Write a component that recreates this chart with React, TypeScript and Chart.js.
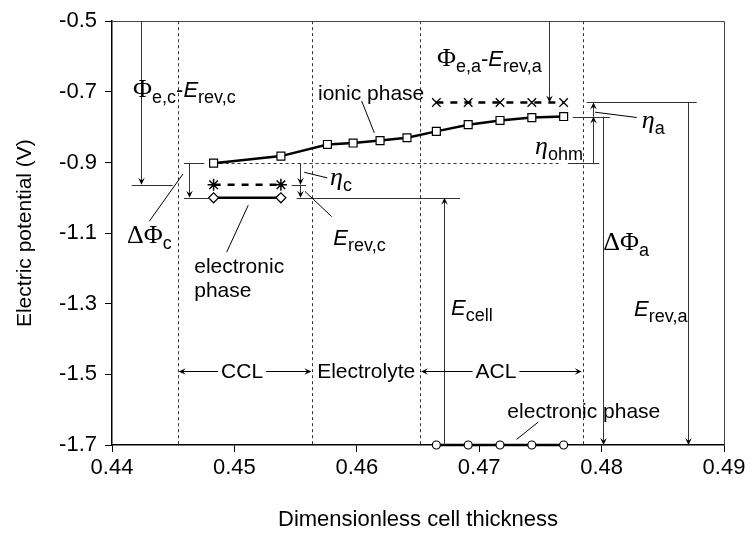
import React, { useEffect, useRef } from 'react';
import { Chart, registerables } from 'chart.js';
Chart.register(...registerables);

// ---- axis ticks ----
const xTicks = [0.44, 0.45, 0.46, 0.47, 0.48, 0.49];
const yTicks = [-1.7, -1.5, -1.3, -1.1, -0.9, -0.7, -0.5];

// ---- series ----
const ionicX = [0.4483, 0.4538, 0.4576, 0.4597, 0.4619, 0.4641, 0.4665, 0.4691, 0.4717, 0.4743, 0.4769];
const ionicY = [-0.902, -0.882, -0.849, -0.845, -0.838, -0.830, -0.812, -0.793, -0.781, -0.773, -0.770];
const cathodeX = [0.4483, 0.4538];
const cathodeElecY = [-1.0, -1.0];
const cathodePhiY = [-0.963, -0.963];
const anodeX = [0.4665, 0.4691, 0.4717, 0.4743, 0.4769];
const anodePhiY = [-0.73, -0.73, -0.73, -0.73, -0.73];
const anodeElecY = [-1.7, -1.7, -1.7, -1.7, -1.7];

// ---- region boundaries (dimensionless thickness) ----
const regionBounds = [0.44537, 0.45637, 0.46516, 0.47846];
const regionNames = ['CCL', 'Electrolyte', 'ACL'];
const regionLabelFrac = [0.478, 0.5, 0.467];
const regionArrowY = -1.49;
const ionicRefLine = [0.4483, 0.47674, -0.902];

// ---- annotation geometry in data units [x1, y1, x2, y2] ----
const refLines = [
  [0.44161, -0.963, 0.44496, -0.963],
  [0.44588, -0.902, 0.44754, -0.902],
  [0.44588, -1.0, 0.44801, -1.0],
  [0.45468, -0.963, 0.45585, -0.963],
  [0.45509, -1.0, 0.46843, -1.0],
  [0.47878, -0.73, 0.48777, -0.73],
  [0.47764, -0.77, 0.48069, -0.77],
  [0.47725, -0.902, 0.47981, -0.902],
];
const arrowLines = [
  [0.44234, -0.5, 0.44234, -0.963],
  [0.44632, -0.902, 0.44632, -1.0],
  [0.45536, -0.902, 0.45536, -0.963],
  [0.45536, -0.963, 0.45536, -1.0],
  [0.47573, -0.5, 0.47573, -0.73],
  [0.47927, -0.77, 0.47927, -0.73],
  [0.47927, -0.902, 0.47927, -0.77],
  [0.48014, -0.77, 0.48014, -1.7],
  [0.48703, -0.73, 0.48703, -1.7],
  [0.46712, -1.7, 0.46712, -1.0],
];
const leaderLines = [
  [0.44305, -1.0664, 0.4458, -0.9326],
  [0.45571, -0.9278, 0.45759, -0.9437],
  [0.45577, -0.982, 0.45795, -1.0534],
  [0.4604, -0.726, 0.46143, -0.8162],
  [0.47946, -0.7576, 0.48287, -0.7727],
  [0.44937, -1.1539, 0.45113, -1.0212],
  [0.47306, -1.6841, 0.47483, -1.635],
];
// label: x (left), y (middle of capitals), parts
const labelItems: { x: number; y: number; parts: [string, string][] }[] = [
  { x: 0.44172, y: -0.6928, parts: [['Φ', 'g'], ['e,c', 's'], ['-', 'n'], ['E', 'i'], ['rev,c', 's']] },
  { x: 0.44123, y: -1.1059, parts: [['ΔΦ', 'g'], ['c', 's']] },
  { x: 0.45781, y: -0.9412, parts: [['η', 'gi'], ['c', 's']] },
  { x: 0.45808, y: -1.1106, parts: [['E', 'i'], ['rev,c', 's']] },
  { x: 0.45683, y: -0.7012, parts: [['ionic phase', 'p']] },
  { x: 0.46655, y: -0.6035, parts: [['Φ', 'g'], ['e,a', 's'], ['-', 'n'], ['E', 'i'], ['rev,a', 's']] },
  { x: 0.48328, y: -0.7794, parts: [['η', 'gi'], ['a', 's']] },
  { x: 0.47456, y: -0.8547, parts: [['η', 'gi'], ['ohm', 's']] },
  { x: 0.48014, y: -1.1254, parts: [['ΔΦ', 'g'], ['a', 's']] },
  { x: 0.48265, y: -1.3124, parts: [['E', 'i'], ['rev,a', 's']] },
  { x: 0.4677, y: -1.3088, parts: [['E', 'i'], ['cell', 's']] },
  { x: 0.44672, y: -1.1896, parts: [['electronic', 'p']] },
  { x: 0.44672, y: -1.2593, parts: [['phase', 'p']] },
  { x: 0.4723, y: -1.6, parts: [['electronic phase', 'p']] },
];

const SANS = '"Liberation Sans", Arial, sans-serif';
const SERIF = '"Liberation Serif", "Times New Roman", serif';
const MAIN = 22;

function fontFor(kind: string) {
  switch (kind) {
    case 'g': return `26px ${SERIF}`;
    case 'gi': return `italic 26px ${SERIF}`;
    case 'i': return `italic ${MAIN}px ${SANS}`;
    case 'n': return `${MAIN}px ${SANS}`;
    case 's': return `18px ${SANS}`;
    default: return `21px ${SANS}`;
  }
}

function drawArrow(ctx: CanvasRenderingContext2D, x1: number, y1: number, x2: number, y2: number) {
  const ang = Math.atan2(y2 - y1, x2 - x1);
  const L = 7, W = 3.3;
  const c = Math.cos(ang), s = Math.sin(ang);
  ctx.beginPath();
  ctx.moveTo(x1, y1);
  ctx.lineTo(x2 - c * L * 0.5, y2 - s * L * 0.5);
  ctx.stroke();
  ctx.beginPath();
  ctx.moveTo(x2, y2);
  ctx.lineTo(x2 - c * L - s * W, y2 - s * L + c * W);
  ctx.lineTo(x2 - c * L * 0.6, y2 - s * L * 0.6);
  ctx.lineTo(x2 - c * L + s * W, y2 - s * L - c * W);
  ctx.closePath();
  ctx.fill();
}

const snap = (v: number) => Math.round(v) + 0.5;

const annotPlugin = {
  id: 'annot',
  beforeDatasetsDraw(chart: any) {
    const { ctx, chartArea: a, scales } = chart;
    const xs = scales.x, ys = scales.y;
    ctx.save();
    ctx.strokeStyle = '#444';
    ctx.lineWidth = 1;
    ctx.beginPath();
    ctx.moveTo(a.left, snap(a.top));
    ctx.lineTo(snap(a.right), snap(a.top));
    ctx.lineTo(snap(a.right), a.bottom);
    ctx.stroke();
    ctx.setLineDash([3, 3]);
    ctx.strokeStyle = '#333';
    for (const b of regionBounds) {
      const px = snap(xs.getPixelForValue(b));
      ctx.beginPath();
      ctx.moveTo(px, a.top);
      ctx.lineTo(px, a.bottom);
      ctx.stroke();
    }
    const ry = snap(ys.getPixelForValue(ionicRefLine[2]));
    ctx.beginPath();
    ctx.moveTo(xs.getPixelForValue(ionicRefLine[0]), ry);
    ctx.lineTo(xs.getPixelForValue(ionicRefLine[1]), ry);
    ctx.stroke();
    ctx.restore();
  },
  afterDatasetsDraw(chart: any) {
    const { ctx, scales } = chart;
    const xs = scales.x, ys = scales.y;
    const X = (v: number) => xs.getPixelForValue(v);
    const Y = (v: number) => ys.getPixelForValue(v);
    ctx.save();
    ctx.strokeStyle = '#333';
    ctx.fillStyle = '#000';
    ctx.lineWidth = 1;
    for (const [x1, y1, x2, y2] of refLines) {
      ctx.beginPath();
      ctx.moveTo(X(x1), snap(Y(y1)));
      ctx.lineTo(X(x2), snap(Y(y2)));
      ctx.stroke();
    }
    for (const [x1, y1, x2, y2] of arrowLines) {
      drawArrow(ctx, snap(X(x1)), Y(y1), snap(X(x2)), Y(y2));
    }
    ctx.strokeStyle = '#000';
    for (const [x1, y1, x2, y2] of leaderLines) {
      ctx.beginPath();
      ctx.moveTo(X(x1), Y(y1));
      ctx.lineTo(X(x2), Y(y2));
      ctx.stroke();
    }
    ctx.fillStyle = '#000';
    ctx.textBaseline = 'alphabetic';
    ctx.textAlign = 'left';
    for (const lab of labelItems) {
      let cx = X(lab.x);
      const base = Y(lab.y) + MAIN * 0.36;
      for (const [t, k] of lab.parts) {
        ctx.font = fontFor(k);
        ctx.fillText(t, cx, k === 's' ? base + 6 : base);
        cx += ctx.measureText(t).width;
      }
    }
    const ay = snap(Y(regionArrowY));
    ctx.font = fontFor('p');
    ctx.textBaseline = 'middle';
    ctx.textAlign = 'center';
    ctx.strokeStyle = '#000';
    regionNames.forEach((name, i) => {
      const l = X(regionBounds[i]), r = X(regionBounds[i + 1]);
      const mid = l + (r - l) * regionLabelFrac[i];
      ctx.fillText(name, mid, ay + 1);
      const w = ctx.measureText(name).width / 2 + 3;
      if (name !== 'Electrolyte') {
        drawArrow(ctx, mid - w, ay, l + 1, ay);
        drawArrow(ctx, mid + w, ay, r - 1, ay);
      }
    });
    ctx.restore();
  },
};

const pts = (xs: number[], ys: number[]) => xs.map((x, i) => ({ x, y: ys[i] }));

export default function App() {
  const ref = useRef<HTMLCanvasElement | null>(null);
  useEffect(() => {
    if (!ref.current) return;
    const tickFont = { family: SANS, size: 22 };
    const chart = new Chart(ref.current, {
      type: 'scatter',
      data: {
        datasets: [
          {
            data: pts(ionicX, ionicY), showLine: true, borderColor: '#000', borderWidth: 2.5,
            pointStyle: 'rect', pointRadius: 5.6, pointBackgroundColor: '#fff', pointBorderColor: '#000',
            pointBorderWidth: 1.2, clip: false,
          },
          {
            data: pts(cathodeX, cathodePhiY), showLine: true, borderColor: '#000', borderWidth: 2.5,
            borderDash: [7, 7], pointStyle: 'star', pointRadius: 6, pointBorderColor: '#000',
            pointBackgroundColor: '#000', pointBorderWidth: 1.5, clip: false,
          },
          {
            data: pts(cathodeX, cathodeElecY), showLine: true, borderColor: '#000', borderWidth: 2.5,
            pointStyle: 'rectRot', pointRadius: 5, pointBackgroundColor: '#fff', pointBorderColor: '#000',
            pointBorderWidth: 1.2, clip: false,
          },
          {
            data: pts(anodeX, anodePhiY), showLine: true, borderColor: '#000', borderWidth: 2.5,
            borderDash: [7, 7], pointStyle: 'crossRot', pointRadius: 6, pointBorderColor: '#000',
            pointBorderWidth: 1.3, clip: false,
          },
          {
            data: pts(anodeX, anodeElecY), showLine: true, borderColor: '#000', borderWidth: 2.5,
            pointStyle: 'circle', pointRadius: 4, pointBackgroundColor: '#fff', pointBorderColor: '#000',
            pointBorderWidth: 1.2, clip: false,
          },
        ],
      },
      options: {
        responsive: false,
        animation: false,
        devicePixelRatio: 1,
        layout: { padding: { top: 15, right: 28, left: 0, bottom: 0 } },
        plugins: { legend: { display: false }, tooltip: { enabled: false } },
        scales: {
          x: {
            type: 'linear', min: 0.44, max: 0.49,
            afterBuildTicks: (s: any) => { s.ticks = xTicks.map((v) => ({ value: v })); },
            afterFit: (s: any) => { s.height = 98; },
            grid: { drawOnChartArea: false, drawTicks: true, tickLength: 7, color: '#000', lineWidth: 1 },
            border: { display: true, color: '#000', width: 1.5 },
            ticks: {
              color: '#000', font: tickFont, padding: 3, autoSkip: false, maxRotation: 0,
              callback: (v: any) => Number(v).toFixed(2),
            },
            title: {
              display: true, text: 'Dimensionless cell thickness', color: '#000',
              font: { family: SANS, size: 22 }, padding: { top: 0, bottom: 10 },
            },
          },
          y: {
            type: 'linear', min: -1.7, max: -0.5,
            afterBuildTicks: (s: any) => { s.ticks = yTicks.map((v) => ({ value: v })); },
            afterFit: (s: any) => { s.width = 112; },
            grid: { drawOnChartArea: false, drawTicks: true, tickLength: 7, color: '#000', lineWidth: 1 },
            border: { display: true, color: '#000', width: 1.5 },
            ticks: {
              color: '#000', font: tickFont, padding: 8, autoSkip: false,
              callback: (v: any) => Number(v).toFixed(1),
            },
            title: {
              display: true, text: 'Electric potential (V)', color: '#000',
              font: { family: SANS, size: 21 }, padding: { top: 13, bottom: 0 },
            },
          },
        },
      },
      plugins: [annotPlugin],
    } as any);
    return () => chart.destroy();
  }, []);
  return (
    <div style={{ position: 'absolute', left: 0, top: 0, width: 752, height: 543, background: '#fff' }}>
      <canvas ref={ref} width={752} height={543} style={{ display: 'block' }} />
    </div>
  );
}
